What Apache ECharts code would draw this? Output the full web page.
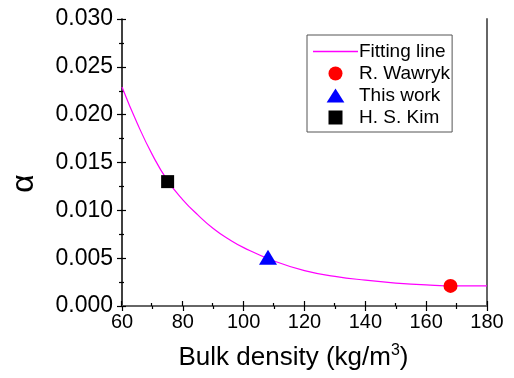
<!DOCTYPE html>
<html>
<head>
<meta charset="utf-8">
<script src="https://cdn.jsdelivr.net/npm/echarts@6/dist/echarts.min.js"></script>
<style>html,body{margin:0;padding:0;background:#fff}#c{width:514px;height:378px}</style>
</head>
<body>
<div id="c"></div>
<script>
// Fitting line
const fitX = [60, 65, 70, 75, 80, 85, 90, 95, 100, 110, 120, 130, 140, 150, 160, 170, 180];
const fitY = [0.0229, 0.0191, 0.0158, 0.0131, 0.0111, 0.0095, 0.0081, 0.0070, 0.0061, 0.0047, 0.0037, 0.0031, 0.0027, 0.0024, 0.0022, 0.0021, 0.0021];
// Measured points
const wawryk = [[168, 0.0021]];
const thisWork = [[108, 0.0051]];
const kim = [[75, 0.0130]];
const seriesNames = ['Fitting line', 'R. Wawryk', 'This work', 'H. S. Kim'];
const xTicks = {min: 60, max: 180, interval: 20};
const yTicks = {min: 0, max: 0.03, interval: 0.005};

const FONT = 'Liberation Sans, Arial, sans-serif';
const gridBox = {left: 121, right: 27, top: 19, bottom: 72};

const chart = echarts.init(document.getElementById('c'), null, {renderer: 'canvas'});
const baseX = {type: 'value', min: xTicks.min, max: xTicks.max, interval: xTicks.interval, splitLine: {show: false}};
const baseY = {type: 'value', min: yTicks.min, max: yTicks.max, interval: yTicks.interval, splitLine: {show: false}};

chart.setOption({
  animation: false,
  backgroundColor: '#fff',
  grid: [
    Object.assign({containLabel: false}, gridBox),
    Object.assign({containLabel: false}, gridBox)
  ],
  xAxis: [
    Object.assign({}, baseX, {
      gridIndex: 0, position: 'bottom',
      name: 'Bulk density (kg/m{s|3})',
      nameLocation: 'middle', nameGap: 37,
      nameTextStyle: {fontFamily: FONT, fontSize: 26, lineHeight: 30, color: '#000', padding: [0, 22, 0, 0],
        rich: {s: {fontFamily: FONT, fontSize: 16, lineHeight: 30, color: '#000', verticalAlign: 'top'}}},
      axisLine: {show: true, lineStyle: {color: '#000', width: 1.5}},
      axisTick: {show: true, inside: false, length: 5, lineStyle: {color: '#000', width: 1.2}},
      minorTick: {show: true, splitNumber: 2, length: 3, lineStyle: {color: '#000', width: 1.2}},
      axisLabel: {fontFamily: FONT, fontSize: 20, color: '#000', margin: 6}
    }),
    Object.assign({}, baseX, {
      gridIndex: 0, position: 'top',
      axisLine: {show: true, lineStyle: {color: '#666', width: 2}},
      axisTick: {show: false}, axisLabel: {show: false}
    }),
    Object.assign({}, baseX, {
      gridIndex: 1, position: 'bottom',
      axisLine: {show: false},
      axisTick: {show: true, inside: true, length: 5, lineStyle: {color: '#000', width: 1.2}},
      minorTick: {show: true, splitNumber: 2, length: 3, lineStyle: {color: '#000', width: 1.2}},
      axisLabel: {show: false}
    })
  ],
  yAxis: [
    Object.assign({}, baseY, {
      gridIndex: 0, position: 'left',
      axisLine: {show: true, lineStyle: {color: '#000', width: 1.5}},
      axisTick: {show: true, inside: false, length: 5, lineStyle: {color: '#000', width: 1.2}},
      minorTick: {show: true, splitNumber: 2, length: 3, lineStyle: {color: '#000', width: 1.2}},
      axisLabel: {fontFamily: FONT, fontSize: 23, color: '#000', margin: 9,
        formatter: v => v.toFixed(3)},
      name: 'α', nameLocation: 'middle', nameRotate: 90, nameGap: 82,
      nameTextStyle: {fontFamily: FONT, fontSize: 32, color: '#000', padding: [0, 42, 0, 0]}
    }),
    Object.assign({}, baseY, {
      gridIndex: 0, position: 'right',
      axisLine: {show: true, lineStyle: {color: '#666', width: 2}},
      axisTick: {show: false}, axisLabel: {show: false}
    }),
    Object.assign({}, baseY, {
      gridIndex: 1, position: 'left',
      axisLine: {show: false},
      axisTick: {show: true, inside: true, length: 5, lineStyle: {color: '#000', width: 1.2}},
      minorTick: {show: true, splitNumber: 2, length: 3, lineStyle: {color: '#000', width: 1.2}},
      axisLabel: {show: false}
    })
  ],
  legend: {
    orient: 'vertical', left: 307, top: 35,
    data: [
      {name: seriesNames[0], icon: 'path://M0,0H45V1.5H0Z', itemStyle: {color: '#ff00ff', borderWidth: 0}},
      {name: seriesNames[1], icon: 'circle'},
      {name: seriesNames[2], icon: 'path://M9.5,0L19,15H0Z'},
      {name: seriesNames[3], icon: 'path://M0,0H13V13H0Z'}
    ],
    symbolKeepAspect: true,
    itemWidth: 45, itemHeight: 14, itemGap: 3, itemTextGap: 0,
    padding: [7, 2, 5, 6],
    borderColor: '#555', borderWidth: 1, backgroundColor: '#fff',
    textStyle: {fontFamily: FONT, fontSize: 19, color: '#000', padding: [0, 0, 0, -4]}
  },
  series: [
    {
      name: seriesNames[0], type: 'line', xAxisIndex: 0, yAxisIndex: 0,
      data: fitX.map((x, i) => [x, fitY[i]]),
      smooth: 0.5, symbol: 'none', showSymbol: false,
      lineStyle: {color: '#ff00ff', width: 1.2}, itemStyle: {color: '#ff00ff'}, z: 2
    },
    {
      name: seriesNames[1], type: 'scatter', xAxisIndex: 0, yAxisIndex: 0,
      data: wawryk, symbol: 'circle', symbolSize: 14,
      itemStyle: {color: '#ff0000', opacity: 1}, z: 3
    },
    {
      name: seriesNames[2], type: 'scatter', xAxisIndex: 0, yAxisIndex: 0,
      data: thisWork, symbol: 'triangle', symbolSize: [18, 15],
      itemStyle: {color: '#0000ff', opacity: 1}, z: 3
    },
    {
      name: seriesNames[3], type: 'scatter', xAxisIndex: 0, yAxisIndex: 0,
      data: kim, symbol: 'rect', symbolSize: 13,
      itemStyle: {color: '#000', opacity: 1}, z: 3
    }
  ]
});
</script>
</body>
</html>
